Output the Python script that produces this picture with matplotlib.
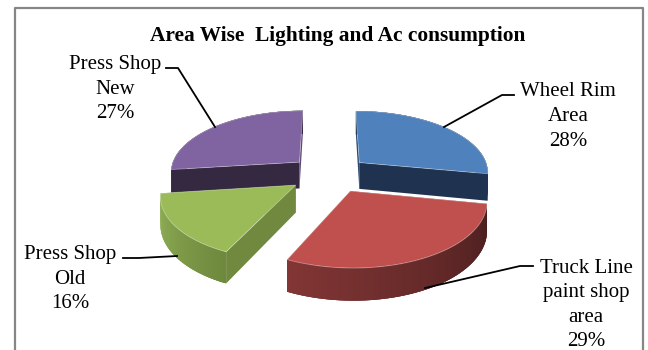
"""3D exploded pie of lighting and AC consumption by plant area, saved to out.png."""

import matplotlib

matplotlib.use("Agg")
import matplotlib.pyplot as plt
import numpy as np
from matplotlib.colors import to_rgb

TITLE = "Area Wise  Lighting and Ac consumption"
AREAS = ["Wheel Rim\nArea", "Truck Line\npaint shop\narea", "Press Shop\nOld", "Press Shop\nNew"]
SHARES = [28, 29, 16, 27]

TOP_COLORS = ["#4f81bd", "#c0504d", "#9bbb59", "#8064a2"]
# wall colour at the start and at the end of each slice's sweep
RADIAL_COLORS = [("#2c4a72", "#1f3350"), ("#5a2423", "#7e3434"), ("#70893f", "#70893f"), ("#352941", "#5c4876")]
ARC_COLORS = [("#1f3350", "#1f3350"), ("#4a1e1e", "#823635"), ("#6e893d", "#93b258"), ("#352941", "#352941")]
SHIFT_X = [2, 4, 0, 0]

LABEL_POS = [(568, 116.5), (586, 305), (70, 279), (115, 89)]
LEADERS = [
    [(514, 95), (502, 95), (444, 127)],
    [(533, 266), (520, 266), (425, 288)],
    [(123, 258), (139, 258), (177, 256)],
    [(166, 68), (178, 68), (215, 127)],
]

# projection of the pie disc onto the figure, in pixels
CX, CY = 328, 174
SCALE_X, SCALE_Y = 130, 61.4
PERSPECTIVE = 0.136
EXPLODE = 0.3
DEPTH = 27


def project(u, v, drop=0.0):
    w = 1 - PERSPECTIVE * v
    return CX + SCALE_X * u / w, CY + (SCALE_Y * v + drop) / w


def rim(theta, du, dv):
    return du + np.sin(theta), dv - np.cos(theta)


def draw_slice(ax, start, end, top, radial, arc, shift):
    mid = (start + end) / 2
    du, dv = EXPLODE * np.sin(mid), -EXPLODE * np.cos(mid)
    thetas = np.linspace(start, end, 80)
    u, v = rim(thetas, du, dv)
    x_top, y_top = project(u, v)
    x_low, y_low = project(u, v, DEPTH)
    x_top, x_low = x_top + shift, x_low + shift
    ax_, ay_ = project(du, dv)
    bx_, by_ = project(du, dv, DEPTH)
    ax_, bx_ = ax_ + shift, bx_ + shift

    # radial walls
    for i, color in zip((0, -1), radial):
        ax.fill([ax_, x_top[i], x_low[i], bx_], [ay_, y_top[i], y_low[i], by_], color=color, lw=0)

    # outer wall, shaded along the sweep; quads overlap so no seams show
    c0, c1 = np.array(to_rgb(arc[0])), np.array(to_rgb(arc[1]))
    n = len(thetas)
    for i in range(n - 1):
        j = min(i + 3, n - 1)
        color = c0 + (c1 - c0) * i / (n - 2)
        ax.fill(
            [x_top[i], *x_top[i + 1 : j + 1], *x_low[i + 1 : j + 1][::-1], x_low[i]],
            [y_top[i], *y_top[i + 1 : j + 1], *y_low[i + 1 : j + 1][::-1], y_low[i]],
            color=color,
            lw=0,
        )

    ax.fill(np.r_[ax_, x_top], np.r_[ay_, y_top], facecolor=top, edgecolor="#ffffff60", lw=0.6)


def main():
    plt.rcParams["font.family"] = ["Liberation Serif", "DejaVu Serif"]
    fig = plt.figure(figsize=(6.48, 3.5), dpi=100)
    ax = fig.add_axes([0, 0, 1, 1])
    ax.set_xlim(0, 648)
    ax.set_ylim(350, 0)
    ax.axis("off")

    # chart frame, open at the bottom
    ax.plot([14.5, 14.5, 643, 643], [350, 8, 8, 350], color="#868686", lw=1.6)

    edges = np.r_[0, np.cumsum(SHARES)] / sum(SHARES) * 2 * np.pi
    for i in (3, 0, 2, 1):
        draw_slice(ax, edges[i], edges[i + 1], TOP_COLORS[i], RADIAL_COLORS[i], ARC_COLORS[i], SHIFT_X[i])

    for area, share, (x, y), leader in zip(AREAS, SHARES, LABEL_POS, LEADERS):
        ax.text(x, y, f"{area}\n{share}%", ha="center", va="center", fontsize=15, linespacing=1.4)
        xs, ys = zip(*leader)
        ax.plot(xs, ys, color="black", lw=1.3)

    ax.text(337.5, 36, TITLE, ha="center", va="center", fontsize=15.4, fontweight="bold")

    fig.savefig("out.png", dpi=100)


if __name__ == "__main__":
    main()
